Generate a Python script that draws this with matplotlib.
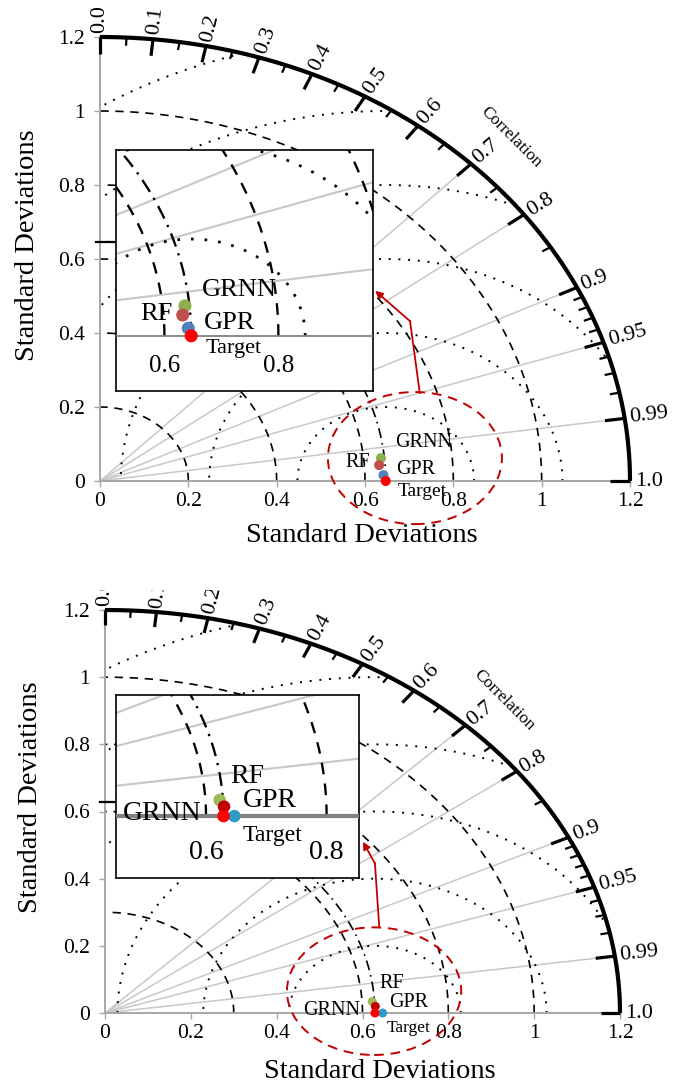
import numpy as np
import matplotlib.pyplot as plt
from matplotlib.patches import Ellipse, Rectangle

plt.rcParams['font.family'] = ['Liberation Serif', 'DejaVu Serif']

W, H = 681, 1089
RMAX = 1.2

models = ['GRNN', 'RF', 'GPR', 'Target']

# upper diagram: standard deviation and correlation of each model
top_std = [0.639, 0.6335, 0.642, 0.647]
top_corr = [0.9953, 0.9977, 0.9997, 1.0]
top_colors = ['#8DB04F', '#C0504D', '#4F81BD', '#FF0000']
top_std_arcs = [0.2, 0.4, 0.6, 0.8, 1.0]

# lower diagram
bot_std = [0.6235, 0.6302, 0.647, 0.629]
bot_corr = [0.9985, 0.9995, 1.0, 1.0]
bot_colors = ['#9BBB59', '#C00000', '#2E9AC6', '#FF0000']
bot_std_arcs = [0.3, 0.6, 0.8, 1.0]

rms_arcs = [0.2, 0.4, 0.6, 0.8, 1.0, 1.2]
corr_lines = [0.7, 0.8, 0.9, 0.95, 0.99]
corr_major = [0.0, 0.1, 0.2, 0.3, 0.4, 0.5, 0.6, 0.7, 0.8, 0.9, 0.95, 0.99, 1.0]
corr_labels = ['0.0', '0.1', '0.2', '0.3', '0.4', '0.5', '0.6', '0.7', '0.8',
               '0.9', '0.95', '0.99', '1.0']
corr_minor = [0.05, 0.15, 0.25, 0.35, 0.45, 0.55, 0.65, 0.75, 0.85,
              0.91, 0.92, 0.93, 0.94, 0.96, 0.97, 0.98]
std_ticks = [0, 0.2, 0.4, 0.6, 0.8, 1.0, 1.2]
std_ticklabels = ['0', '0.2', '0.4', '0.6', '0.8', '1', '1.2']

RED = '#C00000'


def px_axes(fig, x0, y0, x1, y1):
    return fig.add_axes([x0 / W, 1 - y1 / H, (x1 - x0) / W, (y1 - y0) / H])


def to_xy(std, corr):
    th = np.arccos(np.clip(corr, -1, 1))
    return np.asarray(std) * np.cos(th), np.asarray(std) * np.sin(th)


def draw_grid(ax, ref, std_arcs, k=1.0, dotted=True):
    q = np.linspace(0, np.pi / 2, 400)
    for c in corr_lines:
        th = np.arccos(c)
        ax.plot([0, RMAX * np.cos(th)], [0, RMAX * np.sin(th)],
                color='#C8C8C8', lw=1.1 * k, zorder=1)
    for r in std_arcs:
        ax.plot(r * np.cos(q), r * np.sin(q), color='black', lw=1.2 * k,
                ls=(0, (5, 4)), zorder=2)
    # reference standard deviation
    ax.plot(ref * np.cos(q), ref * np.sin(q), color='black', lw=1.2 * k,
            ls=(0, (6, 3, 1, 3)), zorder=2)
    if dotted:
        t = np.linspace(0, np.pi, 800)
        for r in rms_arcs:
            x = ref + r * np.cos(t)
            y = r * np.sin(t)
            keep = (x ** 2 + y ** 2 <= RMAX ** 2) & (x >= 0)
            ax.plot(np.where(keep, x, np.nan), np.where(keep, y, np.nan),
                    color='black', lw=1.4 * k, ls=(0, (1, 4)), zorder=2)


def draw_points(ax, std, corr, colors, size):
    x, y = to_xy(std, corr)
    for xi, yi, col in zip(x, y, colors):
        ax.scatter(xi, yi, s=size, color=col, edgecolors='none', zorder=5,
                   clip_on=False)


def taylor_frame(ax, box):
    sx = (box[2] - box[0]) / RMAX
    sy = (box[3] - box[1]) / RMAX
    ax.set_xlim(0, RMAX)
    ax.set_ylim(0, RMAX)
    ax.patch.set_alpha(0)
    for s in ['top', 'right']:
        ax.spines[s].set_visible(False)
    for s in ['left', 'bottom']:
        ax.spines[s].set_color('#A6A6A6')
        ax.spines[s].set_linewidth(1.4)
    ax.set_xticks(std_ticks)
    ax.set_xticklabels(std_ticklabels)
    ax.set_yticks(std_ticks)
    ax.set_yticklabels(std_ticklabels)
    ax.tick_params(axis='x', length=4, width=1, color='#A6A6A6', labelsize=15.5, pad=4)
    ax.tick_params(axis='y', length=4, width=1, color='#A6A6A6', labelsize=15.5, pad=7)

    q = np.linspace(0, np.pi / 2, 400)
    ax.plot(RMAX * np.cos(q), RMAX * np.sin(q), color='black', lw=3,
            clip_on=False, zorder=6, solid_capstyle='butt')
    for cl, L, lw in [(corr_major, 0.045, 2.3), (corr_minor, 0.022, 1.6)]:
        for c in cl:
            th = np.arccos(c)
            ax.plot([(RMAX - L) * np.cos(th), RMAX * np.cos(th)],
                    [(RMAX - L) * np.sin(th), RMAX * np.sin(th)],
                    color='black', lw=lw, clip_on=False, zorder=6,
                    solid_capstyle='butt')
    for c, lab in zip(corr_major, corr_labels):
        th = np.arccos(c)
        rot = np.degrees(np.arctan2(np.sin(th) * sy, np.cos(th) * sx))
        ax.text(1.212 * np.cos(th), 1.212 * np.sin(th), lab, rotation=rot,
                rotation_mode='anchor', ha='left', va='center', fontsize=16)
    ax.text(0.93, 0.93, 'Correlation', rotation=-45, ha='center', va='center',
            fontsize=12.5)


def inset(fig, box, xlim, ylim, ref, std_arcs, base_lw, dotted, ylab, labfs):
    ax = px_axes(fig, *box)
    ax.set_xlim(*xlim)
    ax.set_ylim(*ylim)
    ax.set_xticks([])
    ax.set_yticks([])
    ax.set_facecolor('white')
    for s in ax.spines.values():
        s.set_color('black')
        s.set_linewidth(1.2)
    ax.axhline(0, color='#808080', lw=base_lw, zorder=3)
    draw_grid(ax, ref, std_arcs, k=1.4, dotted=dotted)
    for v in [0.6, 0.8]:
        ax.text(v, ylab, f'{v:.1f}', ha='center', va='center', fontsize=labfs)
    return ax


def label_points(ax, pos, sizes):
    for m in models:
        x, y, ha = pos[m]
        ax.text(x, y, m, ha=ha, va='center', fontsize=sizes[m], zorder=7)


fig = plt.figure(figsize=(W / 100, H / 100), dpi=100)

# ---------------- upper Taylor diagram ----------------
box_top = (100, 37, 630, 481)
ax1 = px_axes(fig, *box_top)
taylor_frame(ax1, box_top)
ref_top = top_std[models.index('Target')]
draw_grid(ax1, ref_top, top_std_arcs)
ax1.plot([-0.01, 0.04], [ref_top, ref_top], color='black', lw=1.6,
         clip_on=False, zorder=4)
draw_points(ax1, top_std, top_corr, top_colors, 52)
label_points(ax1, {'GRNN': (0.668, 0.103, 'left'), 'RF': (0.611, 0.051, 'right'),
                   'GPR': (0.670, 0.030, 'left'), 'Target': (0.675, -0.028, 'left')},
             {'GRNN': 14.5, 'RF': 14.5, 'GPR': 14.5, 'Target': 14})
ax1.add_patch(Ellipse((0.713, 0.062), 0.394, 0.357, fill=False, ec=RED,
                      lw=1.4, ls=(0, (5, 3.5)), clip_on=False, zorder=6))
ax1.plot([0.724, 0.702], [0.238, 0.432], color=RED, lw=1.3, clip_on=False, zorder=6)
ax1.annotate('', xy=(0.623, 0.514), xytext=(0.702, 0.432),
             arrowprops=dict(arrowstyle='-|>', color=RED, lw=1.3,
                             mutation_scale=11, shrinkA=0, shrinkB=0),
             annotation_clip=False, zorder=6)

ins1 = inset(fig, (116, 150, 373, 391), (0.515, 0.966), (-0.114, 0.384),
             ref_top, top_std_arcs, 1.3, True, -0.062, 18)
draw_points(ins1, top_std, top_corr, top_colors, 88)
label_points(ins1, {'GRNN': (0.665, 0.095, 'left'), 'RF': (0.6135, 0.045, 'right'),
                    'GPR': (0.669, 0.027, 'left'), 'Target': (0.672, -0.027, 'left')},
             {'GRNN': 19, 'RF': 19, 'GPR': 19, 'Target': 16})

fig.text(362 / W, 1 - 535 / H, 'Standard Deviations', ha='center', va='center',
         fontsize=20.5)
fig.text(27 / W, 1 - 245 / H, 'Standard Deviations', ha='center', va='center',
         rotation=90, fontsize=20.5)

# ---------------- lower Taylor diagram ----------------
box_bot = (105, 610, 620, 1013)
ax2 = px_axes(fig, *box_bot)
taylor_frame(ax2, box_bot)
ref_bot = bot_std[models.index('Target')]
draw_grid(ax2, ref_bot, bot_std_arcs)
ax2.plot([-0.012, 0.025], [ref_bot, ref_bot], color='black', lw=1.6,
         clip_on=False, zorder=4)
draw_points(ax2, bot_std, bot_corr, bot_colors, 42)
label_points(ax2, {'GRNN': (0.594, 0.006, 'right'), 'RF': (0.639, 0.089, 'left'),
                   'GPR': (0.662, 0.030, 'left'), 'Target': (0.657, -0.045, 'left')},
             {'GRNN': 14.5, 'RF': 14.5, 'GPR': 14.5, 'Target': 12.5})
ax2.add_patch(Ellipse((0.627, 0.065), 0.406, 0.38, fill=False, ec=RED,
                      lw=1.4, ls=(0, (5, 3.5)), clip_on=False, zorder=6))
ax2.plot([0.639, 0.629], [0.255, 0.4455], color=RED, lw=1.3, clip_on=False, zorder=6)
ax2.annotate('', xy=(0.601, 0.51), xytext=(0.629, 0.4455),
             arrowprops=dict(arrowstyle='-|>', color=RED, lw=1.3,
                             mutation_scale=11, shrinkA=0, shrinkB=0),
             annotation_clip=False, zorder=6)

ins2 = inset(fig, (116, 695, 359, 878), (0.4507, 0.8537), (-0.131, 0.2564),
             ref_bot, bot_std_arcs, 3.0, False, -0.076, 20)
draw_points(ins2, bot_std, bot_corr, bot_colors, 81)
label_points(ins2, {'GRNN': (0.593, 0.006, 'right'), 'RF': (0.640, 0.083, 'left'),
                    'GPR': (0.661, 0.034, 'left'), 'Target': (0.660, -0.040, 'left')},
             {'GRNN': 20, 'RF': 20, 'GPR': 20, 'Target': 17})

fig.text(380 / W, 1 - 1072 / H, 'Standard Deviations', ha='center', va='center',
         fontsize=20.5)
fig.text(31 / W, 1 - 797 / H, 'Standard Deviations', ha='center', va='center',
         rotation=90, fontsize=20.5)

# blank strip between the two diagrams
fig.add_artist(Rectangle((0, 1 - 590 / H), 1, 40 / H, transform=fig.transFigure,
                         facecolor='white', edgecolor='none', zorder=20))

fig.savefig('out.png', dpi=100)
